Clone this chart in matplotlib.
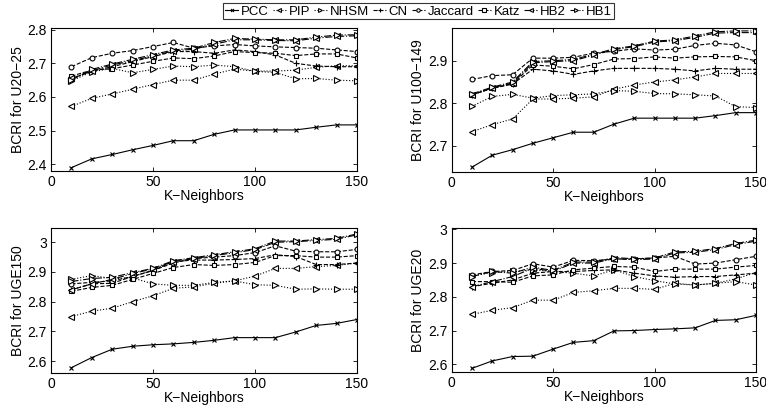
import numpy as np
import matplotlib
matplotlib.use("Agg")
import matplotlib.pyplot as plt
from matplotlib.ticker import FormatStrFormatter

plt.rcParams['font.family'] = ['Liberation Sans', 'DejaVu Sans']
plt.rcParams['font.size'] = 10

k = [10, 20, 30, 40, 50, 60, 70, 80, 90, 100, 110, 120, 130, 140, 150]
methods = ["PCC", "PIP", "NHSM", "CN", "Jaccard", "Katz", "HB2", "HB1"]

# U20-25
pcc1 = [2.390, 2.416, 2.429, 2.443, 2.456, 2.470, 2.470, 2.489, 2.502, 2.502, 2.502, 2.502, 2.510, 2.517, 2.517]
pip1 = [2.572, 2.596, 2.609, 2.623, 2.637, 2.650, 2.650, 2.668, 2.683, 2.677, 2.677, 2.680, 2.688, 2.693, 2.693]
nhsm1 = [2.648, 2.675, 2.685, 2.672, 2.682, 2.692, 2.690, 2.695, 2.690, 2.676, 2.673, 2.654, 2.655, 2.650, 2.648]
cn1 = [2.655, 2.676, 2.690, 2.705, 2.720, 2.735, 2.735, 2.730, 2.740, 2.735, 2.725, 2.700, 2.692, 2.690, 2.690]
jac1 = [2.690, 2.717, 2.730, 2.738, 2.750, 2.762, 2.745, 2.752, 2.756, 2.752, 2.749, 2.747, 2.745, 2.740, 2.735]
katz1 = [2.662, 2.680, 2.684, 2.695, 2.706, 2.716, 2.714, 2.722, 2.735, 2.732, 2.730, 2.723, 2.728, 2.728, 2.716]
hb2_1 = [2.655, 2.678, 2.695, 2.708, 2.722, 2.737, 2.742, 2.757, 2.770, 2.770, 2.768, 2.767, 2.775, 2.780, 2.782]
hb1_1 = [2.650, 2.682, 2.698, 2.712, 2.726, 2.740, 2.745, 2.762, 2.774, 2.772, 2.770, 2.770, 2.778, 2.784, 2.785]

# U100-149
pcc2 = [2.650, 2.678, 2.691, 2.706, 2.719, 2.732, 2.732, 2.751, 2.765, 2.765, 2.765, 2.765, 2.771, 2.778, 2.778]
pip2 = [2.733, 2.750, 2.763, 2.810, 2.810, 2.812, 2.815, 2.833, 2.843, 2.850, 2.855, 2.862, 2.870, 2.870, 2.870]
nhsm2 = [2.793, 2.816, 2.821, 2.812, 2.818, 2.820, 2.822, 2.830, 2.828, 2.823, 2.822, 2.820, 2.817, 2.792, 2.790]
cn2 = [2.820, 2.835, 2.845, 2.880, 2.876, 2.868, 2.876, 2.882, 2.882, 2.882, 2.880, 2.876, 2.882, 2.880, 2.880]
jac2 = [2.856, 2.865, 2.867, 2.906, 2.906, 2.908, 2.918, 2.922, 2.928, 2.925, 2.927, 2.936, 2.941, 2.937, 2.921]
katz2 = [2.820, 2.836, 2.846, 2.890, 2.887, 2.881, 2.891, 2.904, 2.905, 2.909, 2.906, 2.909, 2.910, 2.909, 2.900]
hb2_2 = [2.820, 2.836, 2.848, 2.895, 2.898, 2.900, 2.913, 2.926, 2.933, 2.944, 2.947, 2.955, 2.965, 2.966, 2.966]
hb1_2 = [2.822, 2.838, 2.850, 2.898, 2.900, 2.903, 2.915, 2.928, 2.935, 2.946, 2.949, 2.958, 2.968, 2.970, 2.970]

# UGE150
pcc3 = [2.578, 2.612, 2.640, 2.650, 2.655, 2.658, 2.663, 2.670, 2.679, 2.679, 2.679, 2.698, 2.720, 2.727, 2.740]
pip3 = [2.750, 2.768, 2.778, 2.800, 2.820, 2.845, 2.850, 2.862, 2.870, 2.886, 2.912, 2.912, 2.918, 2.922, 2.930]
nhsm3 = [2.875, 2.888, 2.878, 2.880, 2.860, 2.855, 2.855, 2.865, 2.870, 2.857, 2.855, 2.842, 2.843, 2.842, 2.842]
cn3 = [2.840, 2.860, 2.862, 2.885, 2.905, 2.935, 2.940, 2.940, 2.942, 2.945, 2.958, 2.952, 2.925, 2.925, 2.930]
jac3 = [2.860, 2.865, 2.870, 2.885, 2.905, 2.930, 2.945, 2.950, 2.955, 2.965, 2.988, 2.970, 2.968, 2.968, 2.976]
katz3 = [2.835, 2.848, 2.855, 2.875, 2.895, 2.915, 2.925, 2.922, 2.925, 2.932, 2.955, 2.955, 2.950, 2.950, 2.955]
hb2_3 = [2.840, 2.860, 2.875, 2.895, 2.910, 2.935, 2.945, 2.955, 2.965, 2.975, 3.000, 3.002, 3.006, 3.010, 3.025]
hb1_3 = [2.868, 2.878, 2.882, 2.898, 2.912, 2.938, 2.948, 2.958, 2.968, 2.978, 3.004, 3.004, 3.009, 3.013, 3.028]

# UGE20
pcc4 = [2.588, 2.610, 2.623, 2.624, 2.645, 2.665, 2.670, 2.699, 2.700, 2.703, 2.705, 2.708, 2.730, 2.732, 2.745]
pip4 = [2.748, 2.760, 2.768, 2.790, 2.790, 2.813, 2.818, 2.825, 2.825, 2.822, 2.840, 2.835, 2.840, 2.853, 2.872]
nhsm4 = [2.862, 2.872, 2.875, 2.880, 2.875, 2.870, 2.862, 2.880, 2.860, 2.848, 2.838, 2.835, 2.840, 2.845, 2.835]
cn4 = [2.830, 2.840, 2.850, 2.870, 2.875, 2.875, 2.878, 2.880, 2.870, 2.862, 2.858, 2.860, 2.860, 2.865, 2.870]
jac4 = [2.865, 2.875, 2.878, 2.898, 2.888, 2.908, 2.907, 2.912, 2.912, 2.915, 2.920, 2.897, 2.900, 2.910, 2.920]
katz4 = [2.845, 2.845, 2.843, 2.862, 2.865, 2.880, 2.885, 2.890, 2.888, 2.875, 2.882, 2.882, 2.882, 2.888, 2.893]
hb2_4 = [2.830, 2.845, 2.860, 2.885, 2.875, 2.900, 2.900, 2.913, 2.910, 2.912, 2.930, 2.932, 2.940, 2.955, 2.965]
hb1_4 = [2.860, 2.875, 2.870, 2.888, 2.878, 2.903, 2.903, 2.916, 2.913, 2.915, 2.933, 2.935, 2.943, 2.958, 2.968]

panels = [
    ("BCRI for U20\u221225", [pcc1, pip1, nhsm1, cn1, jac1, katz1, hb2_1, hb1_1], (2.38, 2.806), [2.4, 2.5, 2.6, 2.7, 2.8]),
    ("BCRI for U100\u2212149", [pcc2, pip2, nhsm2, cn2, jac2, katz2, hb2_2, hb1_2], (2.639, 2.976), [2.7, 2.8, 2.9]),
    ("BCRI for UGE150", [pcc3, pip3, nhsm3, cn3, jac3, katz3, hb2_3, hb1_3], (2.561, 3.049), [2.6, 2.7, 2.8, 2.9, 3.0]),
    ("BCRI for UGE20", [pcc4, pip4, nhsm4, cn4, jac4, katz4, hb2_4, hb1_4], (2.578, 3.003), [2.6, 2.7, 2.8, 2.9, 3.0]),
]

# line style and marker per method
styles = [
    ('-', 'x', 3.0),
    (':', '<', 4.0),
    (':', '>', 4.0),
    ('--', '+', 4.0),
    ('--', 'o', 3.5),
    ('--', 's', 3.2),
    ('-.', '<', 4.0),
    ('-.', '>', 4.0),
]

rects = [
    [0.0666, 0.584, 0.3994, 0.3486],
    [0.5897, 0.582, 0.3973, 0.349],
    [0.0666, 0.0932, 0.3994, 0.3528],
    [0.5897, 0.0956, 0.3973, 0.3489],
]

fig = plt.figure(figsize=(7.66, 4.11), dpi=100)

handles = []
for i, (ylab, series, ylim, yt) in enumerate(panels):
    ax = fig.add_axes(rects[i])
    for j, vals in enumerate(series):
        ls, mk, ms = styles[j]
        line, = ax.plot(k, vals, linestyle=ls, marker=mk, markersize=ms,
                        color='black', linewidth=0.8, markeredgewidth=0.8,
                        markerfacecolor='white', label=methods[j])
        if i == 0:
            handles.append(line)
    ax.set_xlim(0, 150)
    ax.set_ylim(*ylim)
    ax.set_xticks([0, 50, 100, 150])
    ax.set_yticks(yt)
    ax.yaxis.set_major_formatter(FormatStrFormatter('%g'))
    ax.tick_params(direction='in', top=True, right=True, length=3, width=0.6, labelsize=10, pad=3)
    for sp in ax.spines.values():
        sp.set_linewidth(0.8)
    ax.set_xlabel("K\u2212Neighbors", fontsize=10, labelpad=0)
    ax.set_ylabel(ylab, fontsize=10, labelpad=2)

leg = fig.legend(handles, methods, loc='upper center', bbox_to_anchor=(0.546, 1.0),
                 ncol=8, frameon=True, fancybox=False, fontsize=9.5,
                 handlelength=1.0, handletextpad=0.2, columnspacing=0.3,
                 borderpad=0.15, borderaxespad=0.25, markerscale=0.7)
leg.get_frame().set_edgecolor('black')
leg.get_frame().set_linewidth(0.8)

fig.savefig("out.png", dpi=100)
